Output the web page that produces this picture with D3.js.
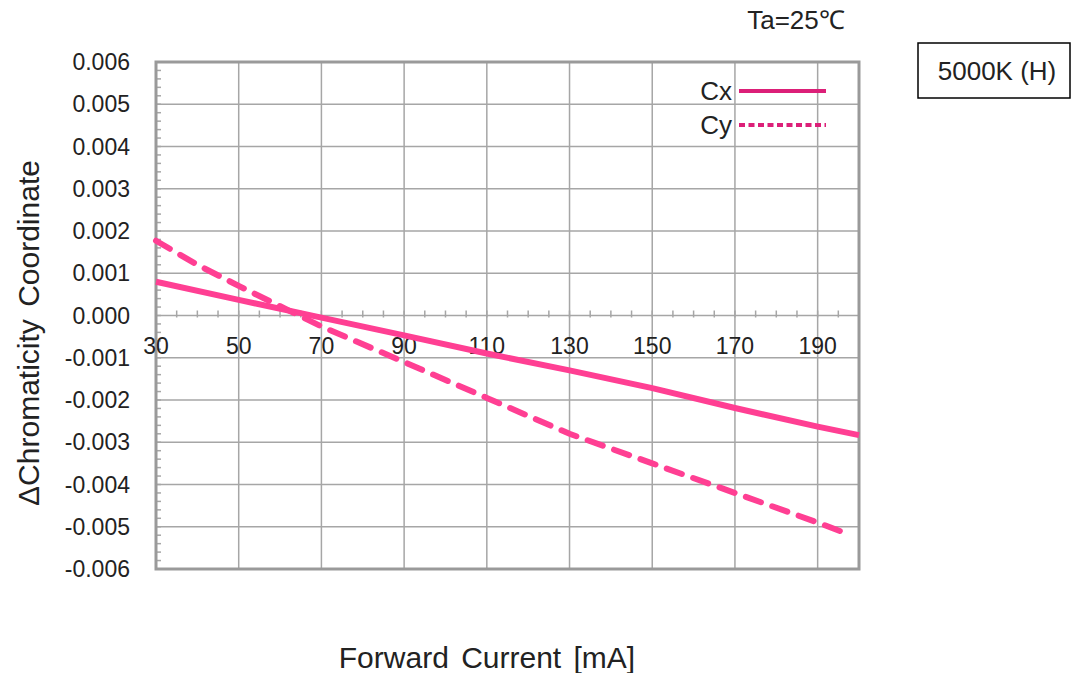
<!DOCTYPE html>
<html><head><meta charset="utf-8">
<script src="https://cdn.jsdelivr.net/npm/d3@7"></script>
<style>body{margin:0;background:#fff}svg{display:block}text{font-family:"Liberation Sans",Arial,sans-serif;fill:#222}</style>
</head><body>
<script>
const cxCurrent = [30, 50, 70, 90, 110, 130, 150, 170, 190, 200];
const cxValues  = [0.0008, 0.00037, -0.00005, -0.00047, -0.0009, -0.0013, -0.00172, -0.00219, -0.00263, -0.00283];
const cyCurrent = [30, 40, 50, 70, 90, 110, 130, 150, 170, 190, 198];
const cyValues  = [0.00177, 0.0012, 0.0007, -0.00026, -0.0011, -0.00195, -0.0028, -0.0035, -0.0042, -0.0049, -0.0052];
const xTicks = [30, 50, 70, 90, 110, 130, 150, 170, 190];
const yTicks = [0.006, 0.005, 0.004, 0.003, 0.002, 0.001, 0, -0.001, -0.002, -0.003, -0.004, -0.005, -0.006];
const seriesNames = ["Cx", "Cy"];

const W = 1083, H = 673;
const L = 156, R = 859, T = 62, B = 569;
const svg = d3.select("body").append("svg").attr("width", W).attr("height", H);
const x = d3.scaleLinear().domain([30, 200]).range([L, R]);
const y = d3.scaleLinear().domain([-0.006, 0.006]).range([B, T]);
const grid = "#a6a6a6";

// grid
svg.append("g").selectAll("line").data(xTicks).join("line")
  .attr("x1", d => x(d)).attr("x2", d => x(d)).attr("y1", T).attr("y2", B)
  .attr("stroke", grid).attr("stroke-width", 1.5);
svg.append("g").selectAll("line").data(yTicks).join("line")
  .attr("x1", L).attr("x2", R).attr("y1", d => y(d)).attr("y2", d => y(d))
  .attr("stroke", grid).attr("stroke-width", 1.5);

// minor ticks on y axis
const yMinor = d3.range(-0.006, 0.00601, 0.0002);
svg.append("g").selectAll("line").data(yMinor).join("line")
  .attr("x1", L).attr("x2", L + 5).attr("y1", d => y(d)).attr("y2", d => y(d))
  .attr("stroke", grid).attr("stroke-width", 1.5);
// minor ticks on zero line
const xMinor = d3.range(35, 200, 5);
svg.append("g").selectAll("line").data(xMinor).join("line")
  .attr("x1", d => x(d)).attr("x2", d => x(d)).attr("y1", y(0) - 5).attr("y2", y(0) + 2)
  .attr("stroke", grid).attr("stroke-width", 1.5);

// frame
svg.append("rect").attr("x", L).attr("y", T).attr("width", R - L).attr("height", B - T)
  .attr("fill", "none").attr("stroke", "#9a9a9a").attr("stroke-width", 3);

// y tick labels
svg.append("g").selectAll("text").data(yTicks).join("text")
  .attr("x", 130).attr("y", d => y(d) + 8).attr("text-anchor", "end")
  .attr("font-size", 23).text(d => d3.format(".3f")(d).replace("−", "-"));
// x tick labels
svg.append("g").selectAll("text").data(xTicks).join("text")
  .attr("x", d => x(d)).attr("y", y(0) + 38).attr("text-anchor", "middle")
  .attr("font-size", 23).text(d => d);

// lines
const lineGen = d3.line().x(d => x(d[0])).y(d => y(d[1]));
const lineCol = "#ff3f93";
svg.append("path").datum(cxCurrent.map((c, i) => [c, cxValues[i]]))
  .attr("d", lineGen).attr("fill", "none").attr("stroke", lineCol).attr("stroke-width", 6);
svg.append("path").datum(cyCurrent.map((c, i) => [c, cyValues[i]]))
  .attr("d", lineGen).attr("fill", "none").attr("stroke", lineCol).attr("stroke-width", 6)
  .attr("stroke-dasharray", "16,12").attr("stroke-linecap", "round");

// legend
const legCol = "#dc1f78";
const legY = [91, 125];
seriesNames.forEach((n, i) => {
  svg.append("text").attr("x", 732).attr("y", legY[i] + 9).attr("text-anchor", "end")
    .attr("font-size", 26).text(n);
  svg.append("line").attr("x1", 739).attr("x2", 826).attr("y1", legY[i]).attr("y2", legY[i])
    .attr("stroke", legCol).attr("stroke-width", 4)
    .attr("stroke-dasharray", i === 0 ? null : "6,3.5");
});

// annotations
svg.append("text").attr("x", 796).attr("y", 29).attr("text-anchor", "middle")
  .attr("font-size", 26).text("Ta=25℃");
svg.append("rect").attr("x", 918).attr("y", 43).attr("width", 152).attr("height", 55)
  .attr("fill", "#fff").attr("stroke", "#000").attr("stroke-width", 1.5);
svg.append("text").attr("x", 997).attr("y", 80).attr("text-anchor", "middle")
  .attr("font-size", 26).text("5000K (H)");

// axis titles
svg.append("text").attr("x", 487).attr("y", 668).attr("text-anchor", "middle")
  .attr("font-size", 30).attr("word-spacing", 4).text("Forward Current [mA]");
svg.append("text").attr("transform", "translate(39,333) rotate(-90)").attr("text-anchor", "middle")
  .attr("font-size", 30).attr("word-spacing", 4).text("ΔChromaticity Coordinate");
</script>
</body></html>
